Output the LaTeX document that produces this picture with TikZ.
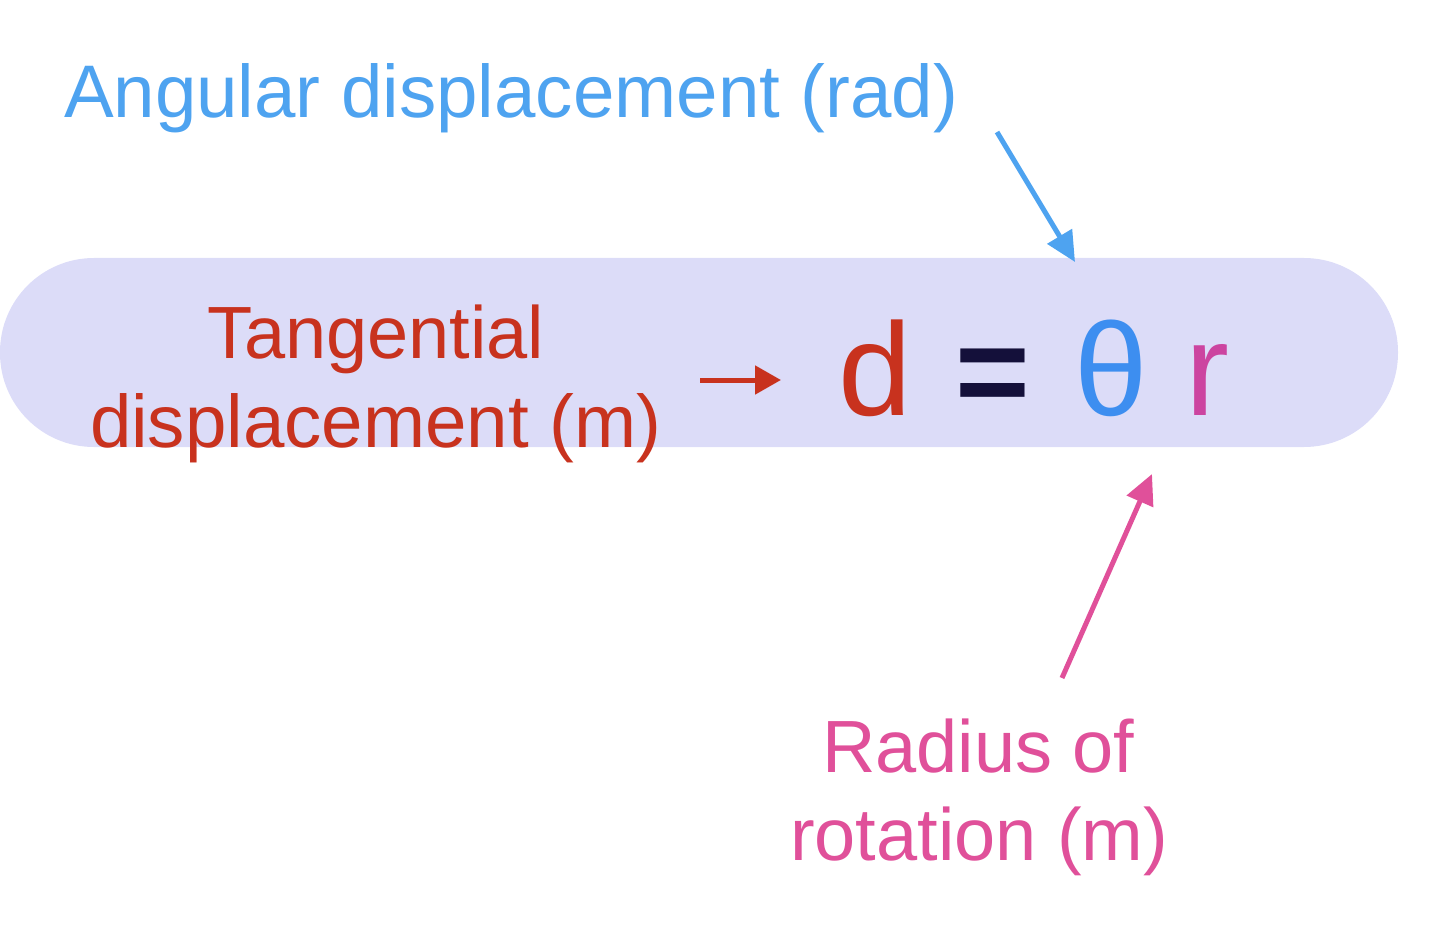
\documentclass[tikz,border=0pt]{standalone}
\usepackage{fontspec}
\setmainfont{Liberation Sans}
\usetikzlibrary{arrows.meta}
\definecolor{angblue}{HTML}{4EA3F0}
\definecolor{thblue}{HTML}{3D8EF0}
\definecolor{tanred}{HTML}{C8321E}
\definecolor{radpink}{HTML}{E0509A}
\definecolor{rmag}{HTML}{CC44A0}
\definecolor{eqnavy}{HTML}{14103A}
\definecolor{pillfill}{HTML}{DCDCF8}
\tikzset{
  lbl/.style={inner sep=0pt, outer sep=0pt, anchor=base west},
  eqsym/.style={lbl, font=\fontsize{132}{150}\selectfont},
  pointer/.style={line width=5pt, -{Triangle[length=30pt,width=28pt]}},
}
\begin{document}
\begin{tikzpicture}[x=1pt,y=-1pt]
\useasboundingbox (0,0) rectangle (1440,933);
\node[fill=pillfill, draw=none, rounded corners=94pt, minimum width=1398pt, minimum height=189pt, inner sep=0pt] (pill) at (699,352.5) {};
\node[lbl, text=angblue, font=\fontsize{74.5}{90}\selectfont] (ang) at (64,118) {Angular displacement (rad)};
\node[lbl, text=tanred, font=\fontsize{74}{89}\selectfont] (tan1) at (207,358) {Tangential};
\node[lbl, text=tanred, font=\fontsize{74.5}{89}\selectfont] (tan2) at (90,447) {displacement (m)};
\node[eqsym, text=tanred] (d) at (838,415) {d};
\node[eqsym, text=eqnavy, font=\fontsize{128}{150}\selectfont\bfseries] (eq) at (955,415) {=};
\node[eqsym, text=thblue] (th) at (1074,415) {θ};
\node[eqsym, text=rmag] (r) at (1185,415) {r};
\node[lbl, text=radpink, font=\fontsize{74}{88}\selectfont] (rad1) at (822,772) {Radius of};
\node[lbl, text=radpink, font=\fontsize{74}{88}\selectfont] (rad2) at (790,860) {rotation (m)};
\coordinate (redstart) at (700,380);
\coordinate (redend) at (781,380);
\coordinate (bluestart) at (997,132);
\coordinate (blueend) at (1075,262);
\coordinate (pinkstart) at (1062,678);
\coordinate (pinkend) at (1152,474);
\draw[pointer, tanred, -{Triangle[length=26pt,width=28pt]}] (redstart) -- (redend);
\draw[pointer, angblue] (bluestart) -- (blueend);
\draw[pointer, radpink] (pinkstart) -- (pinkend);
\end{tikzpicture}
\end{document}
